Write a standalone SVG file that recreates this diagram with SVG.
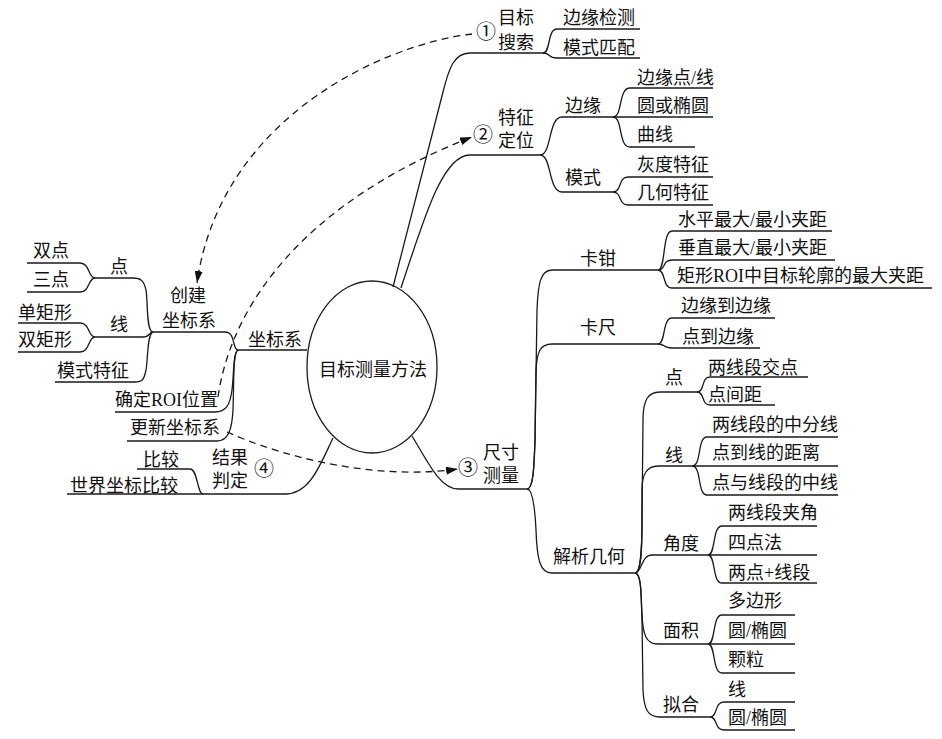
<svg xmlns="http://www.w3.org/2000/svg" width="942" height="739" viewBox="0 0 942 739">
<style>
text{font-family:"Liberation Serif","Noto Sans CJK SC",serif;font-size:18px;fill:#111}
.n{font-size:20px;font-family:"Noto Sans CJK SC","DejaVu Sans",sans-serif}
.c{text-anchor:middle}
.l{fill:none;stroke:#1a1a1a;stroke-width:1.3}
.d{fill:none;stroke:#1a1a1a;stroke-width:1.3;stroke-dasharray:7 5}
</style>
<defs>
<marker id="ah" markerWidth="13" markerHeight="8" refX="12" refY="4" orient="auto" markerUnits="userSpaceOnUse">
<path d="M0,0 L12,4 L0,8 z" fill="#111"/>
</marker>
</defs>
<rect width="942" height="739" fill="#fff"/>
<g id="connectors">
<path class="l" d="M393,287 L443,92 C449,68 454,53 470,53 L543,53"/>
<path class="l" d="M543,53 C551,53 547,29 557,29 L640,29"/>
<path class="l" d="M543,53 C551,53 547,58 557,58 L640,58"/>
<path class="l" d="M401,288 C425,215 443,155 470,155 L540,155"/>
<path class="l" d="M540,155 C552,155 548,117 562,117 L613,117"/>
<path class="l" d="M540,155 C552,155 548,192 562,192 L613,192"/>
<path class="l" d="M613,117 C623,117 618,88 630,88 L713,88"/>
<path class="l" d="M613,117 L713,117"/>
<path class="l" d="M613,117 C623,117 618,147 630,147 L695,147"/>
<path class="l" d="M613,192 C622,192 618,177 628,177 L713,177"/>
<path class="l" d="M613,192 C622,192 618,205 628,205 L713,205"/>
<path class="l" d="M412,436 C428,462 440,489 458,489 L527,489"/>
<path class="l" d="M527,489 C533,489 534,470 535,440 L537,310 C538,285 540,270 552,270 L658,270"/>
<path class="l" d="M527,489 C533,489 534,470 535,440 L536,370 C537,352 540,344 552,344 L658,344"/>
<path class="l" d="M527,489 C533,489 535,510 536,530 C537,560 540,573 552,573 L635,573"/>
<path class="l" d="M658,270 C666,270 662,231 672,231 L832,231"/>
<path class="l" d="M658,270 C666,270 662,260 672,260 L835,260"/>
<path class="l" d="M658,270 C666,270 662,288 672,288 L932,288"/>
<path class="l" d="M658,344 C666,344 662,318 672,318 L775,318"/>
<path class="l" d="M658,344 C666,344 662,348 672,348 L760,348"/>
<path class="l" d="M635,573 C641,573 642,550 642,520 L643,420 C643,400 648,392 660,392 L697,392"/>
<path class="l" d="M635,573 C641,573 642,550 642,520 L642,490 C642,475 646,466 658,466 L692,466"/>
<path class="l" d="M635,573 C642,573 641,555 652,555 L708,555"/>
<path class="l" d="M635,573 C642,573 641,600 642,615 C643,635 646,644 658,644 L708,644"/>
<path class="l" d="M635,573 C642,573 641,600 642,620 L643,690 C644,710 648,717 660,717 L710,717"/>
<path class="l" d="M697,392 C705,392 701,377 710,377 L808,377"/>
<path class="l" d="M697,392 C705,392 701,405 710,405 L775,405"/>
<path class="l" d="M692,466 C702,466 697,437 707,437 L838,437"/>
<path class="l" d="M692,466 L838,466"/>
<path class="l" d="M692,466 C702,466 697,495 707,495 L838,495"/>
<path class="l" d="M708,555 C716,555 712,526 722,526 L817,526"/>
<path class="l" d="M708,555 L817,555"/>
<path class="l" d="M708,555 C716,555 712,583 722,583 L817,583"/>
<path class="l" d="M708,644 C716,644 712,615 722,615 L795,615"/>
<path class="l" d="M708,644 L795,644"/>
<path class="l" d="M708,644 C716,644 712,673 722,673 L795,673"/>
<path class="l" d="M710,717 C718,717 714,702 724,702 L795,702"/>
<path class="l" d="M710,717 C718,717 714,730 724,730 L795,730"/>
<path class="l" d="M307,350 L238,350"/>
<path class="l" d="M238,350 C232,350 236,332 225,332 L153,332"/>
<path class="l" d="M238,350 C233,352 234,375 232,390 C230,405 226,412 215,412 L115,412"/>
<path class="l" d="M238,350 C233,352 234,380 233,410 C232,430 228,441 217,441 L127,441"/>
<path class="l" d="M153,332 C146,332 148,300 146,290 C144,281 141,278 133,278 L95,278"/>
<path class="l" d="M153,332 C149,332 150,337 143,337 L95,337"/>
<path class="l" d="M153,332 C147,334 148,360 146,370 C144,380 142,382 135,382 L55,382"/>
<path class="l" d="M95,278 C88,278 90,263 80,263 L27,263"/>
<path class="l" d="M95,278 C88,278 90,292 80,292 L27,292"/>
<path class="l" d="M95,337 C88,337 90,323 80,323 L18,323"/>
<path class="l" d="M95,337 C88,337 90,352 80,352 L18,352"/>
<path class="l" d="M333,438 C320,465 310,494 285,494 L203,494"/>
<path class="l" d="M203,494 C197,494 198,469 190,469 L137,469"/>
<path class="l" d="M203,494 L67,494"/>
<path class="d" d="M472,34 C380,45 220,120 197,283" marker-end="url(#ah)"/>
<path class="d" d="M218,397 C232,300 310,200 472,137" marker-end="url(#ah)"/>
<path class="d" d="M227,432 C290,460 380,480 458,469" marker-end="url(#ah)"/>
</g>
<g id="center">
<ellipse cx="372" cy="367" rx="65" ry="86" fill="none" stroke="#1a1a1a" stroke-width="1.3"/>
<text class="c" x="373" y="376">目标测量方法</text>
</g>
<g id="n1">
<text class="n c" x="486" y="39">①</text>
<text x="498" y="24">目标</text><text x="498" y="49">搜索</text>
</g>
<g id="n1a"><text x="563" y="24">边缘检测</text></g>
<g id="n1b"><text x="563" y="54">模式匹配</text></g>
<g id="n2">
<text class="n c" x="483" y="142">②</text>
<text x="498" y="124">特征</text><text x="498" y="147">定位</text>
</g>
<g id="n2a"><text x="565" y="112">边缘</text></g>
<g id="n2a1"><text x="637" y="84">边缘点/线</text></g>
<g id="n2a2"><text x="637" y="112">圆或椭圆</text></g>
<g id="n2a3"><text x="637" y="141">曲线</text></g>
<g id="n2b"><text x="565" y="184">模式</text></g>
<g id="n2b1"><text x="637" y="171">灰度特征</text></g>
<g id="n2b2"><text x="637" y="199">几何特征</text></g>
<g id="n3">
<text class="n c" x="468" y="475">③</text>
<text x="483" y="459">尺寸</text><text x="483" y="482">测量</text>
</g>
<g id="n3a"><text x="580" y="265">卡钳</text></g>
<g id="n3a1"><text x="678" y="226">水平最大/最小夹距</text></g>
<g id="n3a2"><text x="678" y="254">垂直最大/最小夹距</text></g>
<g id="n3a3"><text x="677" y="282">矩形ROI中目标轮廓的最大夹距</text></g>
<g id="n3b"><text x="580" y="334">卡尺</text></g>
<g id="n3b1"><text x="681" y="312">边缘到边缘</text></g>
<g id="n3b2"><text x="682" y="343">点到边缘</text></g>
<g id="n3c"><text x="553" y="563">解析几何</text></g>
<g id="n3c1"><text x="665" y="384">点</text></g>
<g id="n3c1a"><text x="708" y="374">两线段交点</text></g>
<g id="n3c1b"><text x="708" y="401">点间距</text></g>
<g id="n3c2"><text x="665" y="462">线</text></g>
<g id="n3c2a"><text x="712" y="431">两线段的中分线</text></g>
<g id="n3c2b"><text x="712" y="459">点到线的距离</text></g>
<g id="n3c2c"><text x="712" y="489">点与线段的中线</text></g>
<g id="n3c3"><text x="663" y="550">角度</text></g>
<g id="n3c3a"><text x="728" y="519">两线段夹角</text></g>
<g id="n3c3b"><text x="728" y="549">四点法</text></g>
<g id="n3c3c"><text x="728" y="579">两点+线段</text></g>
<g id="n3c4"><text x="663" y="637">面积</text></g>
<g id="n3c4a"><text x="728" y="607">多边形</text></g>
<g id="n3c4b"><text x="728" y="637">圆/椭圆</text></g>
<g id="n3c4c"><text x="728" y="666">颗粒</text></g>
<g id="n3c5"><text x="663" y="711">拟合</text></g>
<g id="n3c5a"><text x="728" y="696">线</text></g>
<g id="n3c5b"><text x="728" y="724">圆/椭圆</text></g>
<g id="n0"><text x="248" y="346">坐标系</text></g>
<g id="n0a"><text x="170" y="302">创建</text><text x="162" y="327">坐标系</text></g>
<g id="n0a1"><text x="110" y="273">点</text></g>
<g id="n0a1a"><text x="33" y="257">双点</text></g>
<g id="n0a1b"><text x="33" y="286">三点</text></g>
<g id="n0a2"><text x="110" y="331">线</text></g>
<g id="n0a2a"><text x="18" y="319">单矩形</text></g>
<g id="n0a2b"><text x="18" y="346">双矩形</text></g>
<g id="n0a3"><text x="57" y="377">模式特征</text></g>
<g id="n0b"><text x="115" y="406">确定ROI位置</text></g>
<g id="n0c"><text x="130" y="434">更新坐标系</text></g>
<g id="n4">
<text x="212" y="464">结果</text><text x="212" y="487">判定</text>
<text class="n c" x="264" y="476">④</text>
</g>
<g id="n4a"><text x="143" y="466">比较</text></g>
<g id="n4b"><text x="70" y="492">世界坐标比较</text></g>
</svg>
